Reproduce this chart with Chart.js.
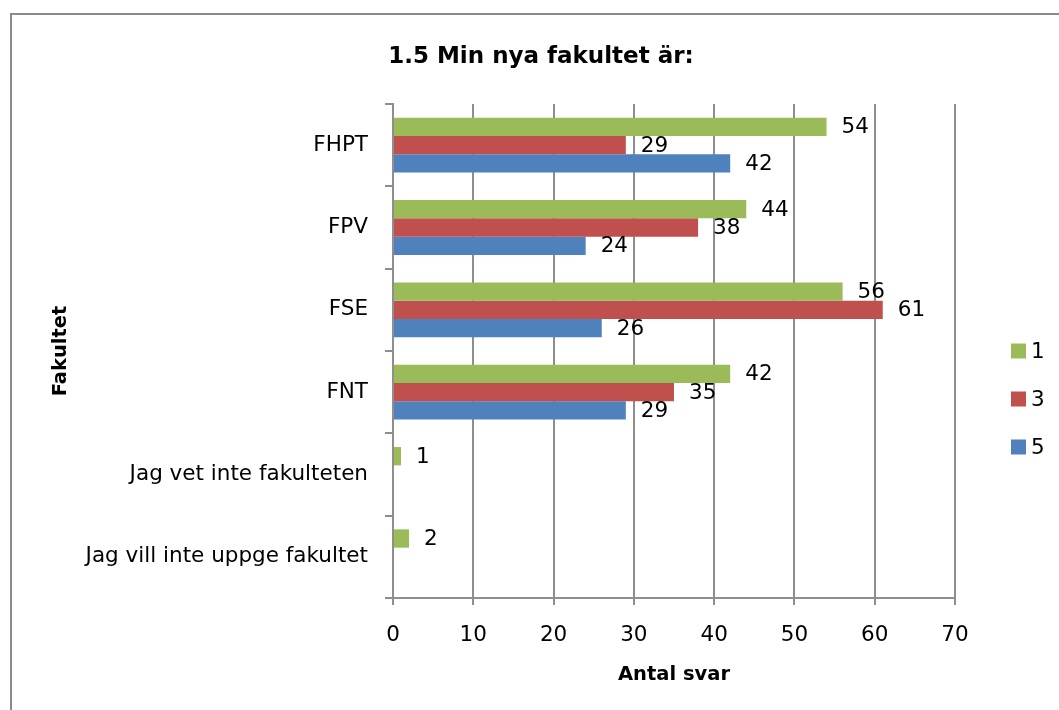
<!DOCTYPE html>
<html>
<head>
<meta charset="utf-8">
<script src="https://cdn.jsdelivr.net/npm/chart.js@4/dist/chart.umd.min.js"></script>
<style>
  html, body { margin: 0; padding: 0; background: #fff; }
  canvas { display: block; }
</style>
</head>
<body>
<canvas id="c" width="1059" height="710"></canvas>
<script>
// ---- Data ----
const categories = ['FHPT', 'FPV', 'FSE', 'FNT', 'Jag vet inte fakulteten', 'Jag vill inte uppge fakultet'];
const seriesNames = ['1', '3', '5'];
const series1 = [54, 44, 56, 42, 1, 2];
const series3 = [29, 38, 61, 35, null, null];
const series5 = [42, 24, 26, 29, null, null];
const xTickValues = [0, 10, 20, 30, 40, 50, 60, 70];
const chartTitle = '1.5 Min nya fakultet är:';
const xAxisTitle = 'Antal svar';
const yAxisTitle = 'Fakultet';

// ---- Style ----
const colors = ['#9BBB59', '#C0504D', '#4F81BD'];
const gridColor = '#8e8e8e';
const tickFont = { family: 'DejaVu Sans', size: 21.5 };
const boldFont = { family: 'DejaVu Sans', size: 19.5, weight: 'bold' };

const framePlugin = {
  id: 'frame',
  beforeDraw(chart) {
    const ctx = chart.ctx;
    ctx.save();
    ctx.fillStyle = '#fff';
    ctx.fillRect(0, 0, chart.width, chart.height);
    ctx.strokeStyle = '#8a8a8a';
    ctx.lineWidth = 2;
    ctx.beginPath();
    ctx.moveTo(11, chart.height);
    ctx.lineTo(11, 14);
    ctx.lineTo(chart.width, 14);
    ctx.stroke();
    ctx.restore();
  },
  afterDraw(chart) {
    const ctx = chart.ctx;
    ctx.save();
    // title
    ctx.fillStyle = '#000';
    ctx.font = 'bold 23px "DejaVu Sans"';
    ctx.textAlign = 'center';
    ctx.textBaseline = 'alphabetic';
    ctx.fillText(chartTitle, 541, 63);
    // legend
    ctx.font = '21.5px "DejaVu Sans"';
    ctx.textAlign = 'left';
    ctx.textBaseline = 'middle';
    const legendY = [351, 399, 447];
    chart.data.datasets.forEach((ds, i) => {
      ctx.fillStyle = ds.backgroundColor;
      ctx.fillRect(1011, legendY[i] - 7.5, 15, 15);
      ctx.fillStyle = '#000';
      ctx.fillText(ds.label, 1031, legendY[i] + 1);
    });
    ctx.restore();
  }
};

const labelPlugin = {
  id: 'valueLabels',
  afterDatasetsDraw(chart) {
    const ctx = chart.ctx;
    ctx.save();
    ctx.fillStyle = '#000';
    ctx.font = '21.5px "DejaVu Sans"';
    ctx.textAlign = 'left';
    ctx.textBaseline = 'middle';
    chart.data.datasets.forEach((ds, di) => {
      const meta = chart.getDatasetMeta(di);
      meta.data.forEach((el, i) => {
        const v = ds.data[i];
        if (v === null || v === undefined) return;
        ctx.fillText(String(v), el.x + 15, el.y + 1);
      });
    });
    ctx.restore();
  }
};

new Chart(document.getElementById('c'), {
  type: 'bar',
  data: {
    labels: categories,
    datasets: [
      { label: seriesNames[0], data: series1, backgroundColor: colors[0] },
      { label: seriesNames[1], data: series3, backgroundColor: colors[1] },
      { label: seriesNames[2], data: series5, backgroundColor: colors[2] }
    ]
  },
  options: {
    indexAxis: 'y',
    responsive: false,
    animation: false,
    devicePixelRatio: 1,
    layout: { padding: { top: 104, right: 104, bottom: 0, left: 0 } },
    datasets: { bar: { barPercentage: 1, categoryPercentage: 0.667 } },
    plugins: {
      legend: { display: false },
      title: { display: false },
      tooltip: { enabled: false }
    },
    scales: {
      x: {
        min: xTickValues[0],
        max: xTickValues[xTickValues.length - 1],
        afterBuildTicks(scale) { scale.ticks = xTickValues.map(v => ({ value: v })); },
        afterFit(scale) { scale.height = 112; },
        grid: { color: gridColor, lineWidth: 2, drawTicks: true, tickLength: 7, drawOnChartArea: true },
        border: { display: true, color: gridColor, width: 2 },
        ticks: { color: '#000', font: tickFont, padding: 18 },
        title: { display: true, text: xAxisTitle, color: '#000', font: boldFont, padding: { top: 0, bottom: 23.5 } }
      },
      y: {
        afterFit(scale) { scale.width = 393; },
        grid: { color: gridColor, lineWidth: 2, drawTicks: true, tickLength: 8, drawOnChartArea: false, offset: true },
        border: { display: true, color: gridColor, width: 2 },
        ticks: { color: '#000', font: tickFont, padding: 17 },
        title: { display: true, text: yAxisTitle, color: '#000', font: boldFont, padding: { top: 49, bottom: 0 } }
      }
    }
  },
  plugins: [framePlugin, labelPlugin]
});
</script>
</body>
</html>
